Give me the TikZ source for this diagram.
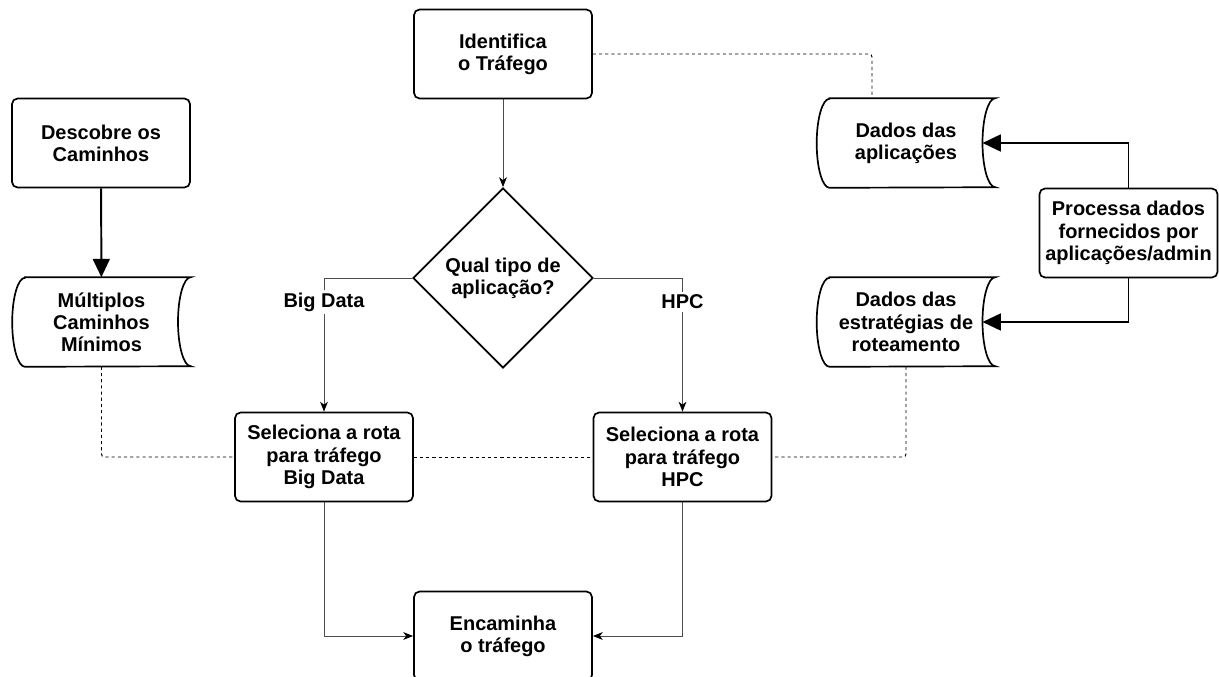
\documentclass[tikz,border=0pt]{standalone}
\usepackage{fontspec}
\setmainfont{Liberation Sans}
\usetikzlibrary{arrows.meta,shapes.geometric}
\pgfdeclarelayer{nodelayer}
\pgfdeclarelayer{edgelayer}
\pgfsetlayers{edgelayer,nodelayer,main}
\tikzstyle{process}=[fill=white, draw=black, shape=rectangle, rounded corners=4pt, line width=1.2pt, minimum width=4.45cm, minimum height=2.225cm, inner sep=1pt, align=center, font=\bfseries\fontsize{14.2}{15.8}\selectfont]
\tikzstyle{storage}=[draw=none, shape=rectangle, minimum width=4.45cm, minimum height=2.225cm, inner sep=1pt, align=center, font=\bfseries\fontsize{14.2}{15.8}\selectfont,
	append after command={\pgfextra{\draw[line width=1.2pt, fill=white] ([xshift=0.32cm]\tikzlastnode.north west) -- (\tikzlastnode.north east) arc[start angle=90, end angle=270, x radius=0.32cm, y radius=1.1125cm] -- ([xshift=0.32cm]\tikzlastnode.south west) arc[start angle=270, end angle=90, x radius=0.32cm, y radius=1.1125cm] -- cycle;}}]
\tikzstyle{decision}=[fill=white, draw=black, shape=diamond, aspect=1, minimum size=4.5cm, inner sep=0pt, line width=1.2pt, align=center, font=\bfseries\fontsize{14.2}{15.8}\selectfont]
\tikzstyle{none}=[fill=none, draw=none, shape=circle, scale=0]
\tikzstyle{branch text}=[fill=white, inner sep=2pt, font=\bfseries\fontsize{14.2}{15.8}\selectfont]
\tikzstyle{flow edge}=[draw=black!70, line width=0.7pt, -{Stealth[length=7pt, width=5.5pt, inset=2pt, color=black]}]
\tikzstyle{thick edge}=[draw=black, line width=1.4pt, -{Triangle[length=13pt, width=12pt]}]
\tikzstyle{data edge}=[draw=black, line width=0.7pt, dash pattern=on 2.2pt off 2.2pt, rounded corners=2pt]

\begin{document}
\begin{tikzpicture}[x=0.025cm, y=0.025cm]
	\useasboundingbox (0, 0) rectangle (1219, -677);
	\begin{pgfonlayer}{nodelayer}
		\node [style=process] (0) at (503, -54) {Identifica\\o Tráfego};
		\node [style=process] (1) at (101, -143) {Descobre os\\Caminhos};
		\node [style=storage] (2) at (906, -143) {Dados das\\aplicações};
		\node [style=process] (3) at (1128.5, -233) {Processa dados\\fornecidos por\\aplicações/admin};
		\node [style=storage] (4) at (101.5, -322) {Múltiplos\\Caminhos\\Mínimos};
		\node [style=decision] (5) at (503, -278) {Qual tipo de\\aplicação?};
		\node [style=storage] (6) at (906, -322) {Dados das\\estratégias de\\roteamento};
		\node [style=process] (7) at (324, -457) {Seleciona a rota\\para tráfego\\Big Data};
		\node [style=process] (8) at (682.5, -457) {Seleciona a rota\\para tráfego\\HPC};
		\node [style=process] (9) at (503, -636) {Encaminha\\o tráfego};
		\node [style=none] (10) at (872, -54) {};
	\end{pgfonlayer}
	\begin{pgfonlayer}{edgelayer}
		\draw [style=flow edge] (0) to (5);
		\draw [style=flow edge] (5.west) -| node [style=branch text, pos=0.59] {Big Data} (7);
		\draw [style=flow edge] (5.east) -| node [style=branch text, pos=0.59] {HPC} (8);
		\draw [style=flow edge] (7) |- (9);
		\draw [style=flow edge] (8) |- (9);
		\draw [style=thick edge] (1) to (4);
		\draw [style=thick edge] (3) |- ([xshift=-0.32cm]2.east);
		\draw [style=thick edge] (3) |- ([xshift=-0.32cm]6.east);
		\draw [style=data edge] (0) -- (10.center) -- (2.north -| 10.center);
		\draw [style=data edge] (4) |- (7);
		\draw [style=data edge] (7) -- (8);
		\draw [style=data edge] (6) |- (8);
	\end{pgfonlayer}
\end{tikzpicture}
\end{document}
